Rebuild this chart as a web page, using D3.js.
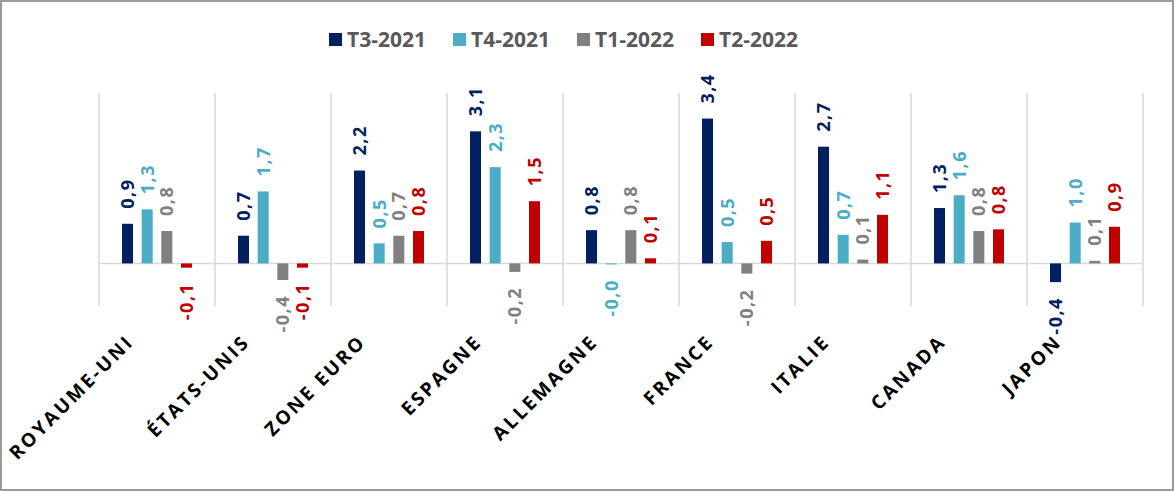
<!DOCTYPE html>
<html>
<head>
<meta charset="utf-8">
<script src="https://cdn.jsdelivr.net/npm/d3@7"></script>
<style>
  body { margin: 0; background: #fff; }
  svg { display: block; font-family: "Open Sans", sans-serif; }
</style>
</head>
<body>
<div id="chart"></div>
<script>
'use strict'

// data
const countries = ['ROYAUME-UNI', 'ÉTATS-UNIS', 'ZONE EURO', 'ESPAGNE', 'ALLEMAGNE', 'FRANCE', 'ITALIE', 'CANADA', 'JAPON']
const seriesNames = ['T3-2021', 'T4-2021', 'T1-2022', 'T2-2022']
const t3_2021 = [0.93, 0.65, 2.18, 3.10, 0.78, 3.40, 2.74, 1.30, -0.44]
const t4_2021 = [1.27, 1.69, 0.47, 2.26, -0.02, 0.50, 0.67, 1.60, 0.96]
const t1_2022 = [0.76, -0.39, 0.65, -0.20, 0.78, -0.24, 0.09, 0.76, 0.06]
const t2_2022 = [-0.1, -0.1, 0.76, 1.46, 0.12, 0.53, 1.14, 0.80, 0.86]
const yTicks = [-1, 0, 1, 2, 3, 4]

const seriesValues = [t3_2021, t4_2021, t1_2022, t2_2022]
const colors = ['#002060', '#4BACC6', '#808080', '#C00000']

////////////////////////////////////
//////////// svg setup /////////////
////////////////////////////////////
const svgWidth = 1174, svgHeight = 491
const plot = { left: 99, right: 1143, top: 93, bottom: 306 }

const svg = d3.select('#chart')
    .append('svg')
    .attr('width', svgWidth)
    .attr('height', svgHeight)

// outer border
svg.append('rect')
    .attr('x', 1).attr('y', 1)
    .attr('width', svgWidth - 2).attr('height', svgHeight - 2)
    .attr('fill', 'none')
    .attr('stroke', '#9a9a9a')
    .attr('stroke-width', 2)

const x0 = d3.scaleBand()
    .domain(countries)
    .range([plot.left, plot.right])
    .padding(0)

const x1 = d3.scaleBand()
    .domain(seriesNames)
    .range([0, x0.bandwidth()])
    .paddingInner(0.44)
    .paddingOuter(1.17)

const y = d3.scaleLinear()
    .domain([yTicks[0], yTicks[yTicks.length - 1]])
    .range([plot.bottom, plot.top])

// french decimal, keep the minus on values that round to zero (-0,0)
const base = d3.formatLocale({ decimal: ',', thousands: ' ', grouping: [3], currency: ['', ' €'] }).format('.1f')
const fmt = v => (v < 0 ? '-' : '') + base(Math.abs(v))

////////////////////////////////////
//////////// gridlines /////////////
////////////////////////////////////
const bounds = countries.map(c => x0(c)).concat([plot.right])
svg.append('g')
    .selectAll('line')
    .data(bounds)
    .join('line')
    .attr('x1', d => d).attr('x2', d => d)
    .attr('y1', plot.top).attr('y2', plot.bottom)
    .attr('stroke', '#d9d9d9')
    .attr('stroke-width', 1.5)

svg.append('line')
    .attr('x1', plot.left).attr('x2', plot.right)
    .attr('y1', y(0)).attr('y2', y(0))
    .attr('stroke', '#d9d9d9')
    .attr('stroke-width', 1.5)

////////////////////////////////////
////////////// bars ////////////////
////////////////////////////////////
const rows = []
countries.forEach((c, i) => {
    seriesNames.forEach((s, j) => {
        rows.push({ country: c, series: s, value: seriesValues[j][i], color: colors[j] })
    })
})

svg.append('g')
    .selectAll('rect')
    .data(rows)
    .join('rect')
    .attr('x', d => x0(d.country) + x1(d.series))
    .attr('width', x1.bandwidth())
    .attr('y', d => y(Math.max(0, d.value)))
    .attr('height', d => Math.max(1, Math.abs(y(d.value) - y(0))))
    .attr('fill', d => d.color)

// value labels, rotated
const gap = 15
svg.append('g')
    .selectAll('text')
    .data(rows)
    .join('text')
    .attr('transform', d => {
        const cx = x0(d.country) + x1(d.series) + x1.bandwidth() / 2
        const cy = d.value >= 0 ? y(d.value) - gap : y(d.value) + gap
        return `translate(${cx},${cy}) rotate(-90)`
    })
    .attr('text-anchor', d => d.value >= 0 ? 'start' : 'end')
    .attr('dy', '0.36em')
    .attr('fill', d => d.color)
    .style('font-size', '18px')
    .style('font-weight', 700)
    .style('letter-spacing', '1.5px')
    .text(d => fmt(d.value))

////////////////////////////////////
///////// category labels //////////
////////////////////////////////////
svg.append('g')
    .selectAll('text')
    .data(countries)
    .join('text')
    .attr('transform', d => `translate(${x0(d) + x0.bandwidth() / 2 - 22},${plot.bottom + 37}) rotate(-45)`)
    .attr('text-anchor', 'end')
    .attr('fill', '#000')
    .style('font-size', '19px')
    .style('font-weight', 700)
    .style('letter-spacing', '2.6px')
    .text(d => d)

////////////////////////////////////
////////////// legend //////////////
////////////////////////////////////
const legend = svg.append('g')
    .selectAll('g')
    .data(seriesNames)
    .join('g')
    .attr('transform', (d, i) => `translate(${329 + i * 124},0)`)

legend.append('rect')
    .attr('x', 0).attr('y', 33)
    .attr('width', 13).attr('height', 13)
    .attr('fill', (d, i) => colors[i])

legend.append('text')
    .attr('x', 18).attr('y', 47)
    .attr('fill', '#595959')
    .style('font-size', '21px')
    .style('font-weight', 700)
    .text(d => d)
</script>
</body>
</html>
